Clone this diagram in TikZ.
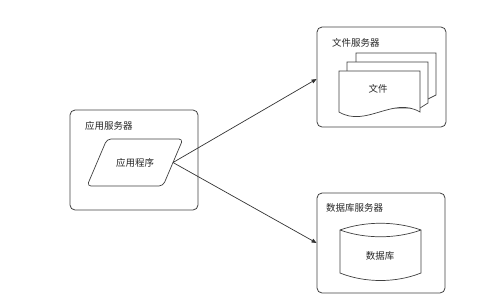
\documentclass[tikz,border=0pt]{standalone}
\usepackage{fontspec}
\setmainfont{Noto Sans CJK SC}
\usepackage{tikz}
\usetikzlibrary{arrows.meta, positioning}

\begin{document}
\begin{tikzpicture}[
    x=1pt, y=-1pt,
    every node/.style={font=\fontsize{9.5}{11}\selectfont, text=black!85, inner sep=0pt},
    server/.style={draw=black!75, line width=0.8pt, rounded corners=5pt, minimum width=128pt, minimum height=100pt},
    title/.style={anchor=west},
    shape line/.style={draw=black!75, line width=0.7pt, fill=white},
    arrow/.style={-{Triangle[length=5pt, width=4pt]}, draw=black!80, line width=0.7pt}
]
\useasboundingbox (0,0) rectangle (500,301);

% servers
\node[server] (appsrv) at (134,160) {};
\node[server, minimum width=129pt] (filesrv) at (381.5,77) {};
\node[server] (dbsrv) at (381,243) {};

\node[title] (applabel) at (85,126) {应用服务器};
\node[title] (filelabel) at (332,43) {文件服务器};
\node[title] (dblabel) at (326,208) {数据库服务器};

% application (parallelogram)
\draw[shape line, rounded corners=4pt] (107,139) -- (183,139) -- (163,186) -- (87,186) -- cycle;
\node (prog) at (135,162.5) {应用程序};
\coordinate (progout) at (173,162.5);

% documents
\draw[shape line] (356,53) -- (436,53) -- (436,95) -- (428,99) -- (356,99) -- cycle;
\draw[shape line] (347,62) -- (428,62) -- (428,103) -- (420,108) -- (347,108) -- cycle;
\draw[shape line] (339,71) -- (420,71) -- (420,112) .. controls (393,96) and (366,128) .. (339,112) -- cycle;
\node (doc) at (378,89) {文件};

% database (cylinder)
\draw[shape line] (340,230) .. controls (365,221) and (396,221) .. (421,230)
    -- (421,273) .. controls (396,283) and (365,283) .. (340,273) -- cycle;
\draw[shape line, fill=none] (340,230) .. controls (365,239) and (396,239) .. (421,230);
\node (db) at (380,256) {数据库};

% connectors
\draw[arrow] (progout) -- (filesrv.west |- 0,79);
\draw[arrow] (progout) -- (dbsrv.west);

\end{tikzpicture}
\end{document}
